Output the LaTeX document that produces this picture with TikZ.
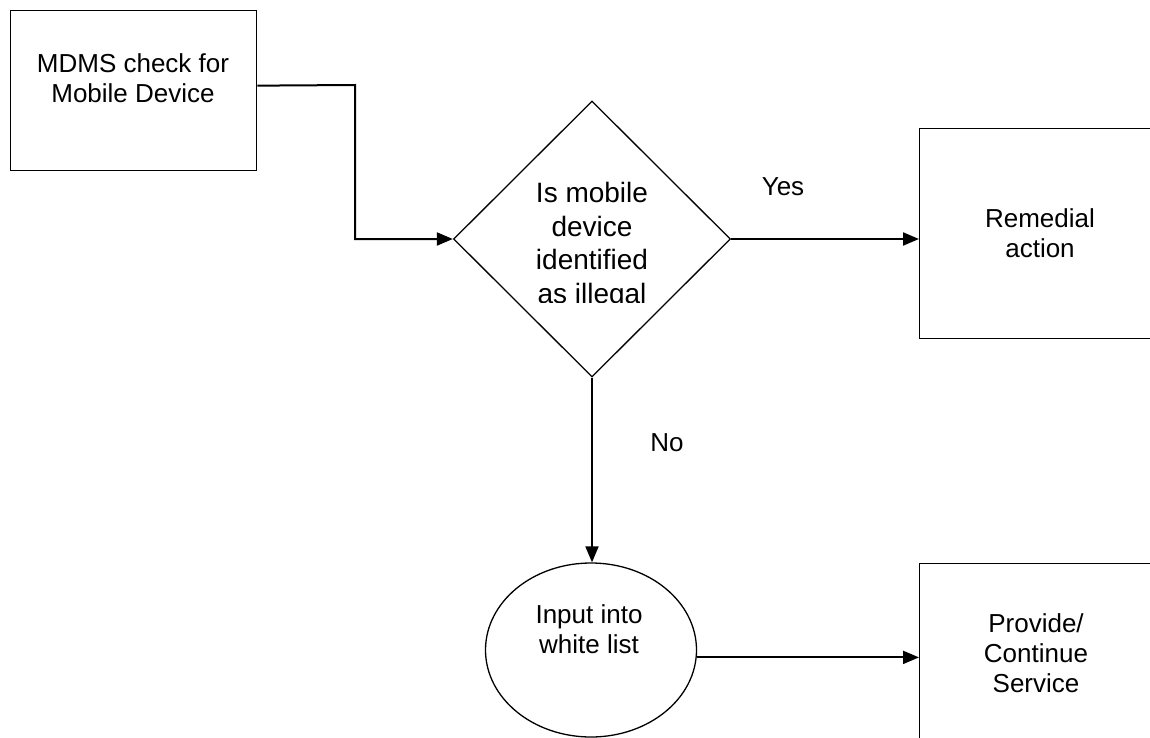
\documentclass[tikz,border=0pt]{standalone}
\usepackage{fontspec}
\setmainfont{Liberation Sans}
\usetikzlibrary{arrows.meta,shapes.geometric}
\begin{document}
\begin{tikzpicture}[x=1pt,y=-1pt,
  box/.style={draw,line width=1.3pt,rectangle,inner sep=0pt,anchor=north west},
  lbl/.style={font=\fontsize{26}{30}\selectfont,align=center,inner sep=0pt},
  arr/.style={line width=2pt,-{Triangle[length=16pt,width=13pt]}}]
\clip (0,0) rectangle (1150,738);
\fill[white] (0,0) rectangle (1150,738);
% shapes
\node[box,minimum width=246pt,minimum height=160pt] (mdms) at (10,10) {};
\node[draw,diamond,line width=1.3pt,minimum width=277pt,minimum height=276pt,inner sep=0pt] (dec) at (592,239) {};
\node[box,minimum width=246pt,minimum height=210pt] (rem) at (919,128) {};
\node[draw,ellipse,line width=1.3pt,minimum width=211pt,minimum height=174pt,inner sep=0pt] (ell) at (591,650) {};
\node[box,minimum width=246pt,minimum height=250pt] (prov) at (919,563) {};
% texts
\node[lbl] (mdmst) at (133,78) {MDMS check for\\Mobile Device};
\begin{scope}
\clip (450,150) rectangle (740,302);
\node[lbl,font=\fontsize{28}{33.5}\selectfont] (dect) at (592,246) {Is mobile\\device\\identified\\as illegal};
\end{scope}
\node[lbl] (remt) at (1040,233) {Remedial\\action};
\node[lbl] (ellt) at (589,629) {Input into\\white list};
\node[lbl] (provt) at (1036,653) {Provide/\\Continue\\Service};
\node[lbl] (yes) at (783,187) {Yes};
\node[lbl] (no) at (667,443) {No};
% connectors
\coordinate (bend) at (355,85);
\draw[arr] ([yshift=5pt]mdms.east) -- (bend) |- (dec.west);
\draw[arr] (dec.east) -- (dec.east -| rem.west);
\draw[arr] (dec.south) -- (dec.south |- ell.north);
\draw[arr] (ell.-4) -- (ell.-4 -| prov.west);
\end{tikzpicture}
\end{document}
